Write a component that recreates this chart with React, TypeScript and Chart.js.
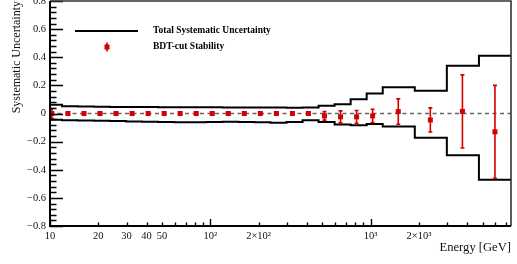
import React, { useEffect, useRef } from 'react';
import { Chart, registerables } from 'chart.js';

Chart.register(...registerables);

// ---------- data ----------
// histogram bin edges (GeV) of the total systematic uncertainty band
const binEdges = [
  9.44, 11.89, 14.96, 18.84, 23.71, 29.85, 37.58, 47.32, 59.57, 74.99,
  94.41, 118.9, 149.6, 188.4, 237.1, 298.5, 375.8, 473.2, 595.7, 749.9,
  944.1, 1189, 1884, 2985, 4732, 7500,
];
const totalUpper = [
  0.062, 0.052, 0.05, 0.048, 0.047, 0.046, 0.046, 0.045, 0.045, 0.044,
  0.044, 0.043, 0.043, 0.042, 0.042, 0.041, 0.042, 0.055, 0.066, 0.102,
  0.142, 0.186, 0.162, 0.34, 0.41,
];
const totalLower = [
  -0.045, -0.048, -0.05, -0.052, -0.054, -0.056, -0.058, -0.06, -0.062, -0.062,
  -0.06, -0.058, -0.06, -0.063, -0.065, -0.06, -0.048, -0.06, -0.079, -0.084,
  -0.075, -0.093, -0.172, -0.296, -0.471,
];
// BDT-cut stability points
const stabEnergy = [
  10.28, 12.94, 16.29, 20.51, 25.82, 32.51, 40.93, 51.52, 64.86, 81.66,
  102.8, 129.4, 162.9, 205.1, 258.2, 325.1, 409.3, 515.2, 648.6, 816.6,
  1028, 1486, 2355, 3733, 5957,
];
const stabValue = [
  0, 0, 0, 0, 0, 0, 0, 0, 0, 0,
  0, 0, 0, 0, 0, 0, 0, -0.017, -0.024, -0.024,
  -0.017, 0.014, -0.046, 0.015, -0.13,
];
const stabError = [
  0.036, 0.004, 0.004, 0.004, 0.004, 0.004, 0.004, 0.004, 0.004, 0.004,
  0.004, 0.004, 0.004, 0.006, 0.008, 0.008, 0.01, 0.03, 0.043, 0.045,
  0.047, 0.09, 0.086, 0.26, 0.33,
];
const legendLabels = ['Total Systematic Uncertainty', 'BDT-cut Stability'];
const xTitle = 'Energy [GeV]';
const yTitle = 'Systematic Uncertainty';
const xMin = 10;
const xMax = 7500;
const yMin = -0.8;
const yMax = 0.8;
const xTickValues = [
  10, 20, 30, 40, 50, 60, 70, 80, 90,
  100, 200, 300, 400, 500, 600, 700, 800, 900,
  1000, 2000, 3000, 4000, 5000, 6000, 7000,
];
const xMajorTicks = [10, 100, 1000];
const xLabelValues = [10, 20, 30, 40, 50, 100, 200, 1000, 2000];
const xLabelTexts = ['10', '20', '30', '40', '50', '10\u00B2', '2\u00D710\u00B2', '10\u00B3', '2\u00D710\u00B3'];
const yTickStep = 0.04;
const yLabelValues = [-0.8, -0.6, -0.4, -0.2, 0, 0.2, 0.4, 0.6, 0.8];
const yLabelTexts = ['\u22120.8', '\u22120.6', '\u22120.4', '\u22120.2', '0', '0.2', '0.4', '0.6', '0.8'];

// ---------- style ----------
const SERIF = '"Liberation Serif", "Times New Roman", serif';
const RED = '#d40000';
const INK = '#111';

function stepData(edges: number[], vals: number[]) {
  return edges.map((e, i) => ({ x: e, y: vals[Math.min(i, vals.length - 1)] }));
}

const errorBarPlugin = {
  id: 'errorBars',
  afterDatasetDraw(chart: any, args: any) {
    const ds = chart.data.datasets[args.index];
    if (!ds.errors) return;
    const { ctx, chartArea } = chart;
    const xs = chart.scales.x;
    const ys = chart.scales.y;
    ctx.save();
    ctx.beginPath();
    ctx.rect(chartArea.left, chartArea.top, chartArea.right - chartArea.left, chartArea.bottom - chartArea.top);
    ctx.clip();
    ctx.strokeStyle = ds.backgroundColor;
    ctx.lineWidth = 1.6;
    ds.data.forEach((p: any, i: number) => {
      const err = ds.errors[i];
      const px = xs.getPixelForValue(p.x);
      const top = ys.getPixelForValue(p.y + err);
      const bot = ys.getPixelForValue(p.y - err);
      ctx.beginPath();
      ctx.moveTo(px, top);
      ctx.lineTo(px, bot);
      if (bot - top > 7) {
        ctx.moveTo(px - 2, top);
        ctx.lineTo(px + 2, top);
        ctx.moveTo(px - 2, bot);
        ctx.lineTo(px + 2, bot);
      }
      ctx.stroke();
      const s = 5;
      ctx.fillStyle = ds.backgroundColor;
      ctx.fillRect(px - s / 2, ys.getPixelForValue(p.y) - s / 2, s, s);
    });
    ctx.restore();
  },
};

const framePlugin = {
  id: 'rootFrame',
  afterDraw(chart: any) {
    const { ctx, chartArea } = chart;
    const { left, right, top, bottom } = chartArea;
    const xs = chart.scales.x;
    const ys = chart.scales.y;
    ctx.save();
    // ticks (inward)
    ctx.strokeStyle = '#000';
    ctx.lineWidth = 1.4;
    ctx.beginPath();
    ys.ticks.forEach((t: any) => {
      const py = Math.round(ys.getPixelForValue(t.value)) + 0.5;
      const isMajor = yLabelValues.some((v) => Math.abs(v - t.value) < 1e-6);
      const len = isMajor ? 13 : 6.5;
      ctx.moveTo(left, py);
      ctx.lineTo(left + len, py);
    });
    xs.ticks.forEach((t: any) => {
      const px = Math.round(xs.getPixelForValue(t.value)) + 0.5;
      const len = xMajorTicks.includes(t.value) ? 7 : 3.5;
      ctx.moveTo(px, bottom);
      ctx.lineTo(px, bottom - len);
    });
    ctx.stroke();
    // frame
    ctx.strokeStyle = '#333';
    ctx.lineWidth = 1.6;
    ctx.beginPath();
    ctx.moveTo(left, top);
    ctx.lineTo(right, top);
    ctx.lineTo(right, bottom);
    ctx.stroke();
    ctx.strokeStyle = '#000';
    ctx.lineWidth = 2;
    ctx.beginPath();
    ctx.moveTo(left, top);
    ctx.lineTo(left, bottom);
    ctx.lineTo(right, bottom);
    ctx.stroke();

    // legend
    const band = chart.data.datasets[2];
    const pts = chart.data.datasets[0];
    ctx.strokeStyle = band.borderColor;
    ctx.lineWidth = 2;
    ctx.beginPath();
    ctx.moveTo(75, 31);
    ctx.lineTo(138, 31);
    ctx.stroke();
    ctx.strokeStyle = pts.backgroundColor;
    ctx.fillStyle = pts.backgroundColor;
    ctx.lineWidth = 1.6;
    ctx.beginPath();
    ctx.moveTo(107, 42.5);
    ctx.lineTo(107, 51.5);
    ctx.stroke();
    ctx.fillRect(104.5, 44.5, 5, 5);
    ctx.fillStyle = '#000';
    ctx.font = 'bold 9.5px ' + SERIF;
    ctx.textBaseline = 'middle';
    ctx.textAlign = 'left';
    ctx.fillText(legendLabels[0], 153, 31);
    ctx.fillText(legendLabels[1], 153, 47);
    ctx.restore();
  },
};

export default function App() {
  const ref = useRef<HTMLCanvasElement | null>(null);

  useEffect(() => {
    if (!ref.current) return;
    const chart = new Chart(ref.current, {
      type: 'line',
      data: {
        datasets: [
          {
            label: legendLabels[1],
            data: stabEnergy.map((e, i) => ({ x: e, y: stabValue[i] })),
            showLine: false,
            pointRadius: 0,
            backgroundColor: RED,
            borderColor: RED,
            errors: stabError,
            order: 0,
          } as any,
          {
            label: 'zero',
            data: [{ x: xMin, y: 0 }, { x: xMax, y: 0 }],
            borderColor: '#666',
            borderWidth: 1.4,
            borderDash: [4, 3.5],
            pointRadius: 0,
            order: 1,
          },
          {
            label: legendLabels[0],
            data: stepData(binEdges, totalUpper),
            stepped: true,
            borderColor: '#000',
            borderWidth: 2,
            pointRadius: 0,
            fill: false,
            order: 2,
          },
          {
            label: legendLabels[0] + ' (low)',
            data: stepData(binEdges, totalLower),
            stepped: true,
            borderColor: '#000',
            borderWidth: 2,
            pointRadius: 0,
            fill: false,
            order: 3,
          },
        ],
      },
      options: {
        responsive: false,
        animation: false,
        devicePixelRatio: 1,
        layout: { padding: { left: 0, right: 6, top: 1, bottom: 0 } },
        plugins: {
          legend: { display: false },
          tooltip: { enabled: false },
          title: { display: false },
        },
        scales: {
          x: {
            type: 'logarithmic',
            position: 'bottom',
            min: xMin,
            max: xMax,
            grid: { display: false, drawTicks: false },
            border: { display: false },
            ticks: {
              autoSkip: false,
              maxRotation: 0,
              minRotation: 0,
              padding: 4,
              color: INK,
              font: { family: SERIF, size: 10.5 },
              callback: (value: any) => {
                const idx = xLabelValues.findIndex((v) => Math.abs(v - Number(value)) < 1e-6);
                return idx >= 0 ? xLabelTexts[idx] : '';
              },
            },
            title: {
              display: true,
              text: xTitle,
              align: 'end',
              color: INK,
              font: { family: SERIF, size: 12.6 },
              padding: { top: 0, bottom: 9 },
            },
            afterBuildTicks: (s: any) => {
              s.ticks = xTickValues.map((v) => ({ value: v }));
            },
            afterFit: (s: any) => {
              s.height = 38;
              s.paddingLeft = 0;
              s.paddingRight = 0;
            },
          } as any,
          y: {
            type: 'linear',
            position: 'left',
            min: yMin,
            max: yMax,
            grid: { display: false, drawTicks: false },
            border: { display: false },
            ticks: {
              autoSkip: false,
              stepSize: yTickStep,
              padding: 4,
              color: INK,
              font: { family: SERIF, size: 10.5 },
              callback: (value: any) => {
                const idx = yLabelValues.findIndex((v) => Math.abs(v - Number(value)) < 1e-6);
                return idx >= 0 ? yLabelTexts[idx] : '';
              },
            },
            title: {
              display: true,
              text: yTitle,
              align: 'end',
              color: INK,
              font: { family: SERIF, size: 12 },
              padding: { top: 10, bottom: 0 },
            },
            afterFit: (s: any) => {
              s.width = 50;
              s.paddingTop = 0;
              s.paddingBottom = 0;
            },
          } as any,
        },
      },
      plugins: [errorBarPlugin, framePlugin],
    });
    return () => chart.destroy();
  }, []);

  return (
    <div style={{ position: 'fixed', left: 0, top: 0, width: 517, height: 264, background: '#fff' }}>
      <canvas ref={ref} width={517} height={264} style={{ display: 'block', width: 517, height: 264 }} />
    </div>
  );
}
